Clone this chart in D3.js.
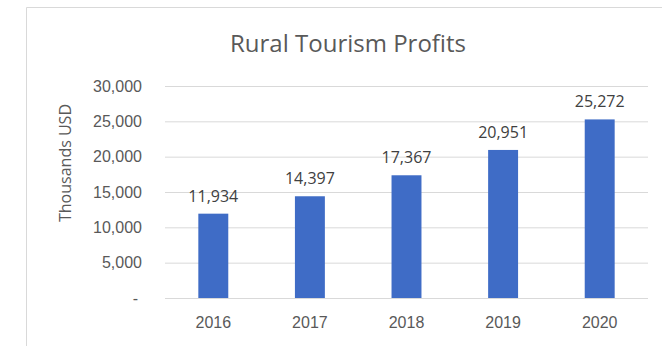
<!DOCTYPE html>
<html>
<head>
<meta charset="utf-8">
<script src="https://cdn.jsdelivr.net/npm/d3@7"></script>
<style>
  html, body { margin: 0; padding: 0; background: #ffffff; overflow: hidden; }
  svg { display: block; font-family: "Open Sans", sans-serif; }
</style>
</head>
<body>
<svg id="chart" width="662" height="346"></svg>
<script>
// Rural tourism profits by year, in thousands of USD
const years = ["2016", "2017", "2018", "2019", "2020"];
const profits = [11934, 14397, 17367, 20951, 25272];
const yTicks = [0, 5000, 10000, 15000, 20000, 25000, 30000];

const svg = d3.select("#chart");
const W = 662, H = 346;
const plot = { left: 165, right: 648, top: 86, bottom: 298 };

// chart frame (top and left edges fall inside the view)
svg.append("path")
  .attr("d", `M26.5,${H} V7.5 H${W}`)
  .attr("fill", "none")
  .attr("stroke", "#d9d9d9").attr("stroke-width", 1);

const x = d3.scaleBand()
  .domain(years)
  .range([plot.left, plot.right])
  .paddingInner(0.69).paddingOuter(0.345);

const y = d3.scaleLinear()
  .domain([0, 30000])
  .range([plot.bottom, plot.top]);

const fmt = d3.format(",");

// horizontal gridlines + y labels
const yAxis = d3.axisLeft(y)
  .tickValues(yTicks)
  .tickSize(-(plot.right - plot.left))
  .tickPadding(23)
  .tickFormat(d => d === 0 ? "-" : fmt(d));

const gy = svg.append("g")
  .attr("transform", `translate(${plot.left},0)`)
  .call(yAxis);
gy.select(".domain").remove();
gy.selectAll(".tick line").attr("stroke", "#d9d9d9").attr("stroke-width", 1);
gy.selectAll(".tick text")
  .attr("fill", "#595959")
  .style("font-size", "16px");
gy.selectAll(".tick text").filter(d => d === 0).attr("dx", "-4");

// x axis labels
const xAxis = d3.axisBottom(x).tickSize(0).tickPadding(19);
const gx = svg.append("g")
  .attr("transform", `translate(0,${plot.bottom})`)
  .call(xAxis);
gx.select(".domain").remove();
gx.selectAll(".tick text")
  .attr("fill", "#595959")
  .style("font-size", "16px");

// bars
svg.append("g").selectAll("rect")
  .data(profits)
  .join("rect")
  .attr("x", (d, i) => x(years[i]))
  .attr("width", x.bandwidth())
  .attr("y", d => y(d))
  .attr("height", d => y(0) - y(d))
  .attr("fill", "#3f6cc6");

// value labels above bars
svg.append("g").selectAll("text")
  .data(profits)
  .join("text")
  .attr("x", (d, i) => x(years[i]) + x.bandwidth() / 2)
  .attr("y", d => y(d) - 12)
  .attr("text-anchor", "middle")
  .attr("fill", "#404040")
  .style("font-size", "16px")
  .text(d => fmt(d));

// title
svg.append("text")
  .attr("x", 348).attr("y", 52)
  .attr("text-anchor", "middle")
  .attr("fill", "#595959")
  .style("font-size", "24px")
  .text("Rural Tourism Profits");

// y axis title
svg.append("text")
  .attr("transform", "translate(71,163) rotate(-90)")
  .attr("text-anchor", "middle")
  .attr("fill", "#595959")
  .style("font-size", "16px")
  .text("Thousands USD");
</script>
</body>
</html>
